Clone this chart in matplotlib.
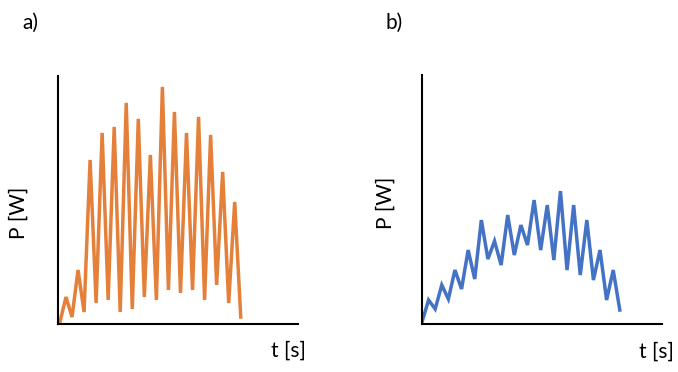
import matplotlib.pyplot as plt
import numpy as np

# power readings (arbitrary units)
p_a = [1, 26, 6, 53, 11, 163, 20, 190, 23, 196, 11, 220, 14, 204, 26, 168,
       23, 236, 33, 211, 30, 190, 33, 206, 23, 188, 38, 151, 20, 121, 6]
p_b = [2, 24, 15, 39, 25, 54, 35, 74, 45, 104, 65, 83, 59, 109, 69, 99,
       79, 124, 74, 119, 64, 133, 54, 119, 49, 104, 44, 74, 24, 54, 14]
t_a = np.arange(len(p_a))
t_b = np.arange(len(p_b))

plt.rcParams['font.family'] = ['Lato', 'DejaVu Sans']

fig = plt.figure(figsize=(6.78, 3.72), dpi=100, facecolor="white")


def panel(rect, t, p, color, xlim, ylim):
    ax = fig.add_axes(rect)
    ax.plot(t, p, color=color, linewidth=2.5, solid_joinstyle='miter')
    ax.set_xlim(*xlim)
    ax.set_ylim(*ylim)
    ax.set_xticks([])
    ax.set_yticks([])
    for s in ['top', 'right']:
        ax.spines[s].set_visible(False)
    for s in ['left', 'bottom']:
        ax.spines[s].set_linewidth(1.5)
    return ax


panel([0.0855, 0.129, 0.354, 0.667], t_a, p_a, '#E4803A', (-0.33, 39.5), (-1, 247))
panel([0.6224, 0.129, 0.354, 0.669], t_b, p_b, '#4472C4', (0, 36.4), (0, 249))

fs = 15
fig.text(30 / 678, 1 - 23 / 372, "a)", fontsize=fs, ha='center', va='center')
fig.text(394 / 678, 1 - 23 / 372, "b)", fontsize=fs, ha='center', va='center')
fig.text(19 / 678, 1 - 213 / 372, "P [W]", fontsize=fs, rotation=90, ha='center', va='center')
fig.text(386 / 678, 1 - 203 / 372, "P [W]", fontsize=fs, rotation=90, ha='center', va='center')
fig.text(288 / 678, 1 - 351 / 372, "t [s]", fontsize=fs, ha='center', va='center')
fig.text(656 / 678, 1 - 352 / 372, "t [s]", fontsize=fs, ha='center', va='center')

fig.savefig("out.png", dpi=100)
